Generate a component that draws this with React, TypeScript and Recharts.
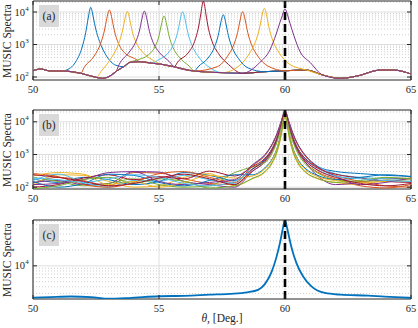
import { LineChart, Line, XAxis, YAxis, CartesianGrid, ReferenceLine, ReferenceArea } from "recharts"

const SERIF = "'Liberation Serif', 'DejaVu Serif', serif"
const AXIS = "#262626"
const BLUE = "#0072BD", ORANGE = "#D95319", YELLOW = "#EDB120", PURPLE = "#7E2F8E"
const GREEN = "#77AC30", CYAN = "#4DBEEE", RED = "#A2142F"
const CYCLE = [BLUE, ORANGE, YELLOW, PURPLE, GREEN, CYAN, RED]

// plot box inside each 418-wide chart
const PLOT_L = 33
const PLOT_R = 411
const PLOT_T = 1
const PLOT_B = 80

const xTicks = [50, 55, 60, 65]

// ---- panel (a): shared floor + one peak per curve
const baseAX = [50, 50.3, 50.7, 51.2, 51.9, 52.5, 52.75, 53.05, 53.3, 53.6, 53.85, 54.25, 54.75, 55.05, 55.6, 56.4, 57.5, 58.3, 59.2, 60, 60.85, 61.5, 62.2, 62.85, 63.8, 64.3, 65]
const baseAY = [156, 176, 153, 153, 130, 98, 91, 107, 150, 207, 283, 296, 264, 250, 207, 153, 136, 130, 146, 156, 164, 115, 91, 107, 164, 164, 124]
const peakOffsets = [-1, -0.6, -0.35, -0.2, -0.1, -0.04, 0, 0.04, 0.1, 0.2, 0.35, 0.6, 1]
const peakCentersA = [52.29, 53.03, 53.74, 54.42, 55.2, 55.94, 56.76, 57.55, 58.32, 59.18, 60]
const peakA1 = [160, 290, 780, 2300, 6500, 11500, 14000, 11800, 7000, 3000, 1250, 480, 230]
const peakA2 = [198, 444, 1061, 2604, 6370, 10136, 11506, 10140, 6385, 2643, 1134, 557, 370]
const peakA3 = [162, 423, 1024, 2417, 5773, 9123, 10350, 9150, 5835, 2510, 1152, 596, 336]
const peakA4 = [243, 587, 1176, 2584, 6014, 9444, 10690, 9440, 6002, 2561, 1148, 563, 293]
const peakA5 = [347, 494, 880, 1858, 4260, 6664, 7537, 6657, 4243, 1826, 830, 409, 216]
const peakA6 = [325, 525, 1057, 2395, 5685, 8980, 10177, 8974, 5670, 2363, 1008, 450, 215]
const peakA7 = [303, 553, 1231, 3167, 8768, 17387, 21696, 17385, 8764, 3160, 1219, 526, 242]
const peakA8 = [207, 386, 828, 1920, 4592, 7264, 8236, 7263, 4590, 1916, 822, 374, 187]
const peakA9 = [209, 437, 991, 2353, 5685, 9018, 10230, 9018, 5686, 2354, 993, 441, 218]
const peakA10 = [221, 517, 1225, 2957, 7184, 11409, 12946, 11411, 7188, 2966, 1240, 538, 246]
const peakA11 = [280, 676, 2100, 4800, 8000, 11300, 12500, 11300, 8200, 4460, 1900, 600, 280]
const peaksA = [peakA1, peakA2, peakA3, peakA4, peakA5, peakA6, peakA7, peakA8, peakA9, peakA10, peakA11]

// ---- panel (b): all trials peak at 60
const xB = [50, 51, 52, 53, 54, 55, 56, 57, 58, 58.7, 59.2, 59.5, 59.7, 59.85, 59.95, 60, 60.05, 60.15, 60.3, 60.5, 60.8, 61.3, 62, 63, 64, 65]
const b1 = [180, 140, 200, 170, 120, 150, 280, 230, 160, 360, 720, 1540, 3460, 8130, 13800, 15150, 13800, 8130, 3470, 1560, 760, 420, 304, 260, 230, 214]
const b2 = [130, 200, 160, 110, 280, 270, 180, 130, 120, 310, 590, 1270, 2970, 7850, 15800, 18130, 15800, 7850, 2970, 1260, 580, 290, 180, 110, 95, 120]
const b3 = [110, 240, 230, 150, 100, 110, 200, 260, 110, 180, 285, 550, 1270, 3820, 10800, 14100, 10800, 3820, 1270, 550, 290, 180, 140, 120, 170, 190]
const b4 = [140, 160, 120, 130, 300, 290, 150, 120, 100, 300, 615, 1370, 3260, 8680, 17500, 20100, 17500, 8680, 3260, 1360, 600, 220, 120, 140, 190, 170]
const b5 = [200, 150, 110, 130, 180, 120, 100, 110, 280, 420, 560, 1130, 2650, 6990, 14060, 16120, 14050, 6980, 2640, 1120, 520, 270, 170, 150, 160, 150]
const b6 = [160, 250, 140, 100, 160, 150, 230, 170, 130, 450, 946, 2085, 4635, 10160, 15900, 17130, 15900, 10160, 4635, 2080, 940, 440, 260, 200, 180, 170]
const b7 = [100, 120, 190, 240, 170, 210, 180, 310, 220, 420, 760, 1570, 3650, 9610, 19330, 22170, 19330, 9610, 3650, 1560, 740, 380, 250, 190, 150, 140]
const b8 = [150, 100, 130, 250, 230, 140, 110, 160, 240, 240, 390, 750, 1720, 5190, 14670, 19150, 14670, 5190, 1720, 740, 380, 230, 170, 200, 240, 210]
const b9 = [260, 210, 120, 100, 140, 260, 300, 200, 140, 440, 920, 2030, 4500, 9860, 15440, 16630, 15440, 9860, 4500, 2020, 900, 400, 230, 150, 110, 100]
const b10 = [220, 280, 250, 120, 150, 100, 140, 230, 190, 220, 360, 710, 1660, 5030, 14260, 18630, 14260, 5030, 1650, 700, 350, 210, 160, 140, 150, 180]
const b11 = [120, 130, 170, 280, 300, 150, 120, 140, 170, 480, 990, 2160, 4790, 10470, 16390, 17650, 16390, 10470, 4780, 2140, 960, 420, 220, 120, 140, 190]
const b12 = [90, 110, 170, 200, 130, 180, 150, 95, 110, 185, 300, 600, 1390, 4220, 11950, 15610, 11950, 4220, 1390, 600, 300, 185, 140, 160, 200, 180]
const b13 = [190, 170, 140, 180, 240, 200, 130, 110, 150, 350, 680, 1470, 3460, 9150, 18430, 21140, 18430, 9150, 3460, 1470, 680, 340, 220, 180, 160, 150]
const b14 = [240, 200, 150, 110, 130, 190, 250, 180, 120, 350, 680, 1450, 3390, 8950, 18000, 20650, 18000, 8950, 3390, 1440, 660, 330, 200, 130, 110, 130]
const trialsB = [b1, b2, b3, b4, b5, b6, b7, b8, b9, b10, b11, b12, b13, b14]

// ---- panel (c): averaged spectrum
const xC = [50, 50.7, 51.5, 52.3, 53, 53.8, 55, 56, 57, 57.8, 58.5, 58.93, 59.2, 59.46, 59.65, 59.8, 59.93, 60, 60.1, 60.25, 60.45, 60.72, 61.05, 61.58, 62.2, 63.3, 63.95, 64.9, 65]
const yC = [2500, 2560, 2620, 2560, 2380, 2450, 2650, 2700, 2840, 2950, 3150, 3500, 4500, 7500, 14000, 27200, 55200, 73800, 47700, 23100, 11390, 6280, 4070, 3055, 2840, 2720, 2600, 2480, 2470]

// y axes
const domainAB: [number, number] = [81, 21800]
const domainB: [number, number] = [88, 23000]
const domainC: [number, number] = [2350, 74000]
const majorAB = [100, 1000, 10000]
const minorAB = [200, 300, 400, 500, 600, 700, 800, 900, 2000, 3000, 4000, 5000, 6000, 7000, 8000, 9000, 20000]
const majorC = [10000]
const minorC = [3000, 4000, 5000, 6000, 7000, 8000, 9000, 20000, 30000, 40000, 50000, 60000, 70000]

type Pt = { x: number; y: number }
type Series = { data: Pt[]; color: string; width: number }

function mergePeak(center: number, values: number[]): Pt[] {
  const lo = center + peakOffsets[0]
  const hi = center + peakOffsets[peakOffsets.length - 1]
  const pts = baseAX
    .map((x, i) => ({ x, y: baseAY[i] }))
    .filter((p) => p.x < lo - 0.02 || p.x > hi + 0.02)
  peakOffsets.forEach((o, i) => pts.push({ x: +(center + o).toFixed(3), y: values[i] }))
  return pts.sort((a, b) => a.x - b.x)
}

const seriesA: Series[] = peaksA.map((v, i) => ({
  data: mergePeak(peakCentersA[i], v),
  color: CYCLE[i % CYCLE.length],
  width: 1,
}))
const seriesB: Series[] = trialsB.map((v, i) => ({
  data: xB.map((x, j) => ({ x, y: v[j] })),
  color: CYCLE[i % CYCLE.length],
  width: 1,
}))
const seriesC: Series[] = [{ data: xC.map((x, j) => ({ x, y: yC[j] })), color: BLUE, width: 1.8 }]

function MajorYTick(props: any) {
  const { y, payload } = props
  const exp = Math.round(Math.log10(payload.value))
  return (
    <g>
      <line x1={PLOT_L} x2={PLOT_L + 4} y1={y} y2={y} stroke={AXIS} />
      <line x1={PLOT_R - 4} x2={PLOT_R} y1={y} y2={y} stroke={AXIS} />
      <text x={25} y={y + 3.5} textAnchor="end" fontSize={10.5} fill={AXIS} fontFamily={SERIF}>10</text>
      <text x={25.3} y={y - 1.5} fontSize={7} fill={AXIS} fontFamily={SERIF}>{exp}</text>
    </g>
  )
}

function MinorYTick(props: any) {
  const { y } = props
  return (
    <g>
      <line x1={PLOT_L} x2={PLOT_L + 2} y1={y} y2={y} stroke={AXIS} />
      <line x1={PLOT_R - 2} x2={PLOT_R} y1={y} y2={y} stroke={AXIS} />
    </g>
  )
}

function XTick(props: any) {
  const { x, payload } = props
  return (
    <g>
      <line x1={x} x2={x} y1={PLOT_B} y2={PLOT_B - 4} stroke={AXIS} />
      <line x1={x} x2={x} y1={PLOT_T} y2={PLOT_T + 4} stroke={AXIS} />
      <text x={x} y={PLOT_B + 13} textAnchor="middle" fontSize={10.5} fill={AXIS} fontFamily={SERIF}>
        {payload.value}
      </text>
    </g>
  )
}

interface PanelProps {
  top: number
  tag: string
  series: Series[]
  domain: [number, number]
  major: number[]
  minor: number[]
}

function Panel({ top, tag, series, domain, major, minor }: PanelProps) {
  return (
    <div style={{ position: "absolute", left: 0, top, width: 418, height: 100 }}>
      <LineChart width={418} height={100} margin={{ top: PLOT_T, right: 418 - PLOT_R, bottom: 0, left: 0 }}>
        <CartesianGrid yAxisId="minor" vertical={false} stroke="#cfcfcf" strokeDasharray="1 2" syncWithTicks />
        <CartesianGrid yAxisId="major" stroke="#dedede" syncWithTicks />
        <XAxis
          type="number" dataKey="x" domain={[50, 65]} ticks={xTicks} interval={0}
          allowDataOverflow height={20} axisLine={false} tickLine={false} tick={<XTick />}
        />
        <YAxis
          yAxisId="major" scale="log" domain={domain} ticks={major} interval={0}
          allowDataOverflow width={PLOT_L} axisLine={false} tickLine={false} tick={<MajorYTick />}
        />
        <YAxis
          yAxisId="minor" scale="log" domain={domain} ticks={minor} interval={0}
          allowDataOverflow width={0} axisLine={false} tickLine={false} tick={<MinorYTick />}
        />
        {series.map((s, i) => (
          <Line
            key={i} yAxisId="major" data={s.data} dataKey="y" type="monotone"
            stroke={s.color} strokeWidth={s.width} dot={false} activeDot={false}
            isAnimationActive={false}
          />
        ))}
        <ReferenceLine yAxisId="major" x={60} stroke="#000" strokeWidth={2.6} strokeDasharray="8 4" />
        <ReferenceArea
          yAxisId="major" x1={50} x2={65} y1={domain[0]} y2={domain[1]}
          fill="none" fillOpacity={0} stroke={AXIS} strokeWidth={1}
        />
      </LineChart>
      <div
        style={{
          position: "absolute", left: 39, top: PLOT_T + 4, width: 20, height: 22,
          background: "#d9d9d9", fontFamily: SERIF, fontSize: 11.5, color: AXIS,
          lineHeight: "22px", textAlign: "center",
        }}
      >
        {tag}
      </div>
      <div
        style={{
          position: "absolute", left: 7 - 45, top: (PLOT_T + PLOT_B) / 2 - 7, width: 90, height: 14,
          transform: "rotate(-90deg)", fontFamily: SERIF, fontSize: 11.5, color: AXIS,
          lineHeight: "14px", textAlign: "center", whiteSpace: "nowrap",
        }}
      >
        MUSIC Spectra
      </div>
    </div>
  )
}

export default function App() {
  return (
    <div style={{ position: "absolute", left: 0, top: 0, width: 418, height: 328, background: "#fff" }}>
      <Panel top={0} tag="(a)" series={seriesA} domain={domainAB} major={majorAB} minor={minorAB} />
      <Panel top={109} tag="(b)" series={seriesB} domain={domainB} major={majorAB} minor={minorAB} />
      <Panel top={219} tag="(c)" series={seriesC} domain={domainC} major={majorC} minor={minorC} />
      <div
        style={{
          position: "absolute", left: 172, top: 311, width: 100, textAlign: "center",
          fontFamily: SERIF, fontSize: 11.5, color: AXIS, lineHeight: "14px",
        }}
      >
        <i>θ</i>, [Deg.]
      </div>
    </div>
  )
}
